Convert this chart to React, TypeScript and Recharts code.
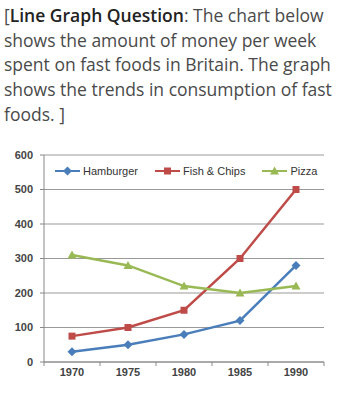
import { LineChart, Line, XAxis, YAxis, CartesianGrid } from 'recharts';

// Weekly spend on fast food in Britain (pence per person)
const years = [1970, 1975, 1980, 1985, 1990];
const hamburger = [30, 50, 80, 120, 280];
const fishChips = [75, 100, 150, 300, 500];
const pizza = [310, 280, 220, 200, 220];
const yTicks = [0, 100, 200, 300, 400, 500, 600];

const BLUE = '#4a7ebb';
const RED = '#be4b48';
const GREEN = '#98b954';

const data = years.map((year, i) => ({
  year,
  hamburger: hamburger[i],
  fishChips: fishChips[i],
  pizza: pizza[i],
}));

type Shape = 'diamond' | 'square' | 'triangle';

function markerPath(shape: Shape, cx: number, cy: number) {
  if (shape === 'diamond') return `M${cx},${cy - 4.5}L${cx + 4.5},${cy}L${cx},${cy + 4.5}L${cx - 4.5},${cy}Z`;
  if (shape === 'square') return `M${cx - 3.5},${cy - 3.5}h7v7h-7Z`;
  return `M${cx},${cy - 4.5}L${cx + 4.5},${cy + 3.5}L${cx - 4.5},${cy + 3.5}Z`;
}

const makeDot = (shape: Shape, color: string) => (props: any) => {
  const { cx, cy, index } = props;
  if (cx == null || cy == null) return <g key={index} />;
  return <path key={index} d={markerPath(shape, cx, cy)} fill={color} />;
};

const series = [
  { key: 'hamburger', name: 'Hamburger', color: BLUE, shape: 'diamond' as Shape },
  { key: 'fishChips', name: 'Fish & Chips', color: RED, shape: 'square' as Shape },
  { key: 'pizza', name: 'Pizza', color: GREEN, shape: 'triangle' as Shape },
];

// year labels centred in the band, tick marks on the band edges (Excel style)
const XTick = (props: any) => {
  const { x, y, payload, index } = props;
  const axisY = y - 10;
  const half = 28;
  return (
    <g>
      <line x1={x - half} x2={x - half} y1={axisY} y2={axisY + 4} stroke="#888" />
      {index === years.length - 1 && (
        <line x1={x + half} x2={x + half} y1={axisY} y2={axisY + 4} stroke="#888" />
      )}
      <text x={x} y={y} dy="0.32em" textAnchor="middle" fill="#444" fontSize={11} fontWeight="bold">
        {payload.value}
      </text>
    </g>
  );
};

export default function App() {
  return (
    <div
      style={{
        position: 'absolute',
        top: 0,
        left: 0,
        width: 360,
        height: 400,
        background: '#fff',
        overflow: 'hidden',
      }}
    >
      <div
        style={{
          position: 'absolute',
          top: 3,
          left: 4,
          fontFamily: '"Open Sans", sans-serif',
          fontSize: 17.5,
          lineHeight: '24.7px',
          color: '#4a4a4a',
          whiteSpace: 'nowrap',
        }}
      >
        [<span style={{ fontWeight: 600, color: '#222' }}>Line Graph Question</span>: The chart below
        <br />
        shows the amount of money per week
        <br />
        spent on fast foods in Britain. The graph
        <br />
        shows the trends in consumption of fast
        <br />
        foods. ]
      </div>

      <div style={{ position: 'absolute', top: 140, left: 0, fontFamily: '"Liberation Sans", Arial, sans-serif' }}>
        <LineChart width={360} height={260} data={data} margin={{ top: 15, right: 36, left: 0, bottom: 8 }}>
          <CartesianGrid vertical={false} stroke="#999" />
          <XAxis
            dataKey="year"
            type="number"
            domain={[1967.5, 1992.5]}
            ticks={years}
            height={30}
            tickSize={4}
            tickMargin={6}
            tickLine={false}
            stroke="#888"
            tick={<XTick />}
          />
          <YAxis
            domain={[0, 600]}
            ticks={yTicks}
            width={44}
            tickSize={4}
            tickMargin={7}
            stroke="#888"
            tick={{ fill: '#444', fontSize: 11, fontWeight: 'bold' }}
          />
          {series.map((s) => (
            <Line
              key={s.key}
              dataKey={s.key}
              name={s.name}
              stroke={s.color}
              strokeWidth={2.5}
              dot={makeDot(s.shape, s.color)}
              isAnimationActive={false}
            />
          ))}
        </LineChart>

        <div
          style={{
            position: 'absolute',
            top: 25,
            left: 55,
            display: 'flex',
            alignItems: 'center',
            gap: 17,
            fontSize: 11,
            color: '#333',
            background: '#fff',
          }}
        >
          {series.map((s) => (
            <div key={s.key} style={{ display: 'flex', alignItems: 'center' }}>
              <svg width={25} height={10} style={{ marginRight: 3 }}>
                <line x1={0} x2={25} y1={5} y2={5} stroke={s.color} strokeWidth={2} />
                <path d={markerPath(s.shape, 12.5, 5)} fill={s.color} />
              </svg>
              <span>{s.name}</span>
            </div>
          ))}
        </div>
      </div>
    </div>
  );
}
